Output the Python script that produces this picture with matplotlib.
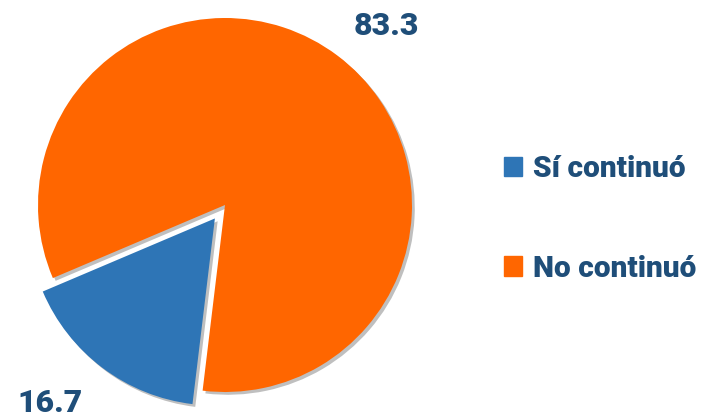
import numpy as np
import matplotlib
matplotlib.use("Agg")
import matplotlib.pyplot as plt
import matplotlib.patheffects as pe

# data
labels = ["Sí continuó", "No continuó"]
values = [16.7, 83.3]
value_labels = ["16.7", "83.3"]
colors = ["#2E75B6", "#FF6600"]
text_color = "#1F4E79"

plt.rcParams["font.family"] = ["Roboto", "DejaVu Sans"]

W, H = 718, 419
fig = plt.figure(figsize=(W / 100, H / 100), dpi=100)

# pie center/radius in pixels
cx, cy, R = 225, 205, 187
ax_w = 490
ax = fig.add_axes([0, 0, ax_w / W, 1])
ax.axis("off")

explode = [0.09, 0.0]
wedges, _ = ax.pie(
    values,
    colors=colors,
    startangle=203,
    counterclock=True,
    explode=explode,
    radius=1.0,
)
ax.set_xlim(-cx / R, (ax_w - cx) / R)
ax.set_ylim(-(H - cy) / R, cy / R)
ax.set_aspect("equal")
for w in wedges:
    w.set_path_effects([
        pe.SimplePatchShadow(offset=(2, -2), shadow_rgbFace="black", alpha=0.25),
        pe.Normal(),
    ])

# value labels outside the slices
label_dist = [1.41, 1.29]
label_shift = [-4.5, -5]
for w, txt, d, s in zip(wedges, value_labels, label_dist, label_shift):
    mid = np.deg2rad((w.theta1 + w.theta2) / 2 + s)
    ax.text(d * np.cos(mid), d * np.sin(mid), txt,
            ha="center", va="center", fontsize=23,
            fontweight=900, color=text_color)

handles = [plt.Rectangle((0, 0), 1, 1, color=c) for c in colors]
leg = fig.legend(
    handles, labels,
    loc="center left",
    bbox_to_anchor=(492 / W, 0.478),
    borderaxespad=0,
    frameon=False,
    fontsize=21.5,
    handlelength=0.62,
    handleheight=0.62,
    handletextpad=0.35,
    labelspacing=2.4,
)
for t in leg.get_texts():
    t.set_color(text_color)
    t.set_fontweight(900)

fig.savefig("out.png", dpi=100)
